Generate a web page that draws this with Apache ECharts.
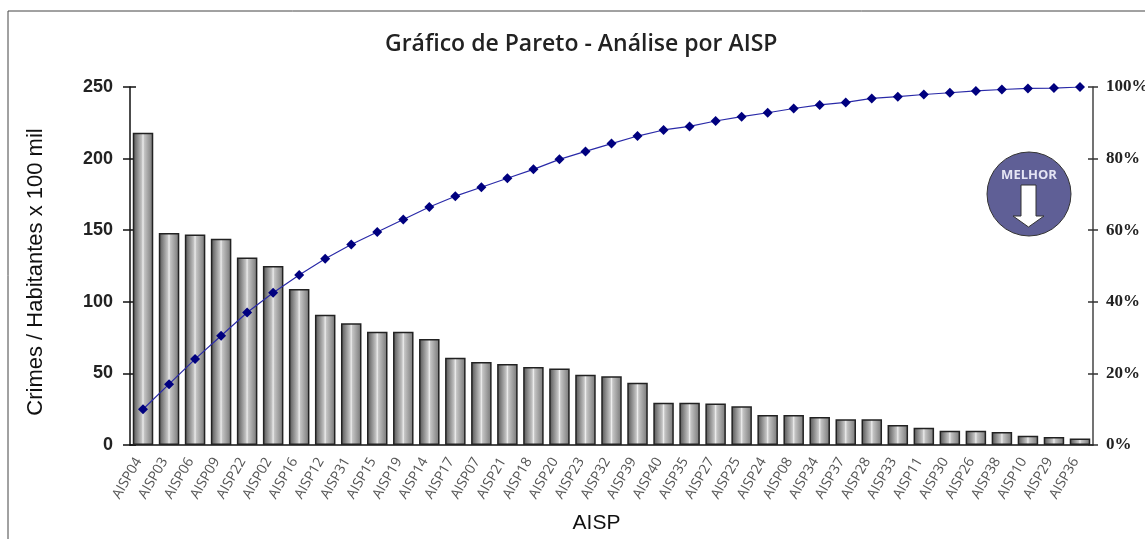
<!DOCTYPE html>
<html>
<head>
<meta charset="utf-8">
<script src="https://cdn.jsdelivr.net/npm/echarts@6/dist/echarts.min.js"></script>
<style>
html, body { margin: 0; padding: 0; background: #fff; overflow: hidden; }
#chart { width: 1145px; height: 539px; }
</style>
</head>
<body>
<div id="chart"></div>
<script>
var categories = ['AISP04','AISP03','AISP06','AISP09','AISP22','AISP02','AISP16','AISP12','AISP31','AISP15','AISP19','AISP14','AISP17','AISP07','AISP21','AISP18','AISP20','AISP23','AISP32','AISP39','AISP40','AISP35','AISP27','AISP25','AISP24','AISP08','AISP34','AISP37','AISP28','AISP33','AISP11','AISP30','AISP26','AISP38','AISP10','AISP29','AISP36'];
var crimes = [218,148,147,144,131,125,109,91,85,79,79,74,61,58,56.5,54.5,53.5,49,48,43.5,29.5,29.5,29,27,21,21,19.5,18,18,14,12,10,10,9,6.5,5.5,4.5];
var acumulado = [10,17,24,30.5,37,42.5,47.5,52,56,59.5,63,66.5,69.5,72,74.5,77,79.8,82,84.2,86.3,88,89,90.5,91.7,92.8,94,95,95.7,96.8,97.3,97.9,98.4,98.9,99.3,99.6,99.7,100];

var myChart = echarts.init(document.getElementById('chart'));

// gradiente das barras, escuro nas pontas e claro no meio
var barColor = {
    type: 'linear', x: 0, y: 0, x2: 1, y2: 0,
    colorStops: [
        { offset: 0, color: '#505050' },
        { offset: 0.44, color: '#c4c4c4' },
        { offset: 0.5, color: '#eeeeee' },
        { offset: 0.56, color: '#c4c4c4' },
        { offset: 1, color: '#747474' }
    ]
};

var option = {
    animation: false,
    title: {
        text: 'Gráfico de Pareto - Análise por AISP',
        left: 380,
        top: 28,
        textStyle: { fontFamily: 'Open Sans', fontSize: 23, fontWeight: 600, color: '#222' }
    },
    // sem isso o echarts 6 encolhe o grid por causa do 100%
    grid: { left: 130, right: 52, top: 87, bottom: 94, outerBoundsMode: 'none' },
    xAxis: [
        {
            type: 'category',
            data: categories,
            name: 'AISP',
            nameLocation: 'middle',
            nameGap: 68,
            nameTextStyle: { fontFamily: 'Liberation Sans', fontSize: 21, color: '#111', padding: [0, 30, 0, 0] },
            axisLine: { lineStyle: { color: '#111', width: 1.5 } },
            axisTick: { length: 7, lineStyle: { color: '#111', width: 1.5 } },
            axisLabel: { interval: 0, rotate: 60, fontFamily: 'Open Sans', fontSize: 14, color: '#555', margin: 6, padding: [0, 9, 0, 0] }
        },
        {
            // risquinhos para dentro
            type: 'category',
            data: categories,
            position: 'bottom',
            axisLine: { show: false },
            axisTick: { inside: true, length: 4, lineStyle: { color: '#111', width: 1.5 } },
            axisLabel: { show: false }
        }
    ],
    yAxis: [
        {
            type: 'value',
            min: 0,
            max: 250,
            interval: 50,
            name: 'Crimes / Habitantes x 100 mil',
            nameLocation: 'middle',
            nameGap: 83,
            nameTextStyle: { fontFamily: 'Liberation Sans', fontSize: 22, color: '#111', padding: [0, 12, 0, 0] },
            splitLine: { show: false },
            axisLine: { show: true, lineStyle: { color: '#111', width: 1.5 } },
            axisTick: { show: true, length: 7, lineStyle: { color: '#111', width: 1.5 } },
            axisLabel: { fontFamily: 'Liberation Sans', fontSize: 18, fontWeight: 'bold', color: '#222', margin: 17 }
        },
        {
            type: 'value',
            min: 0,
            max: 100,
            interval: 20,
            position: 'right',
            splitLine: { show: false },
            axisLine: { show: true, lineStyle: { color: '#444', width: 1.5 } },
            axisTick: { show: true, length: 5, lineStyle: { color: '#333', width: 1.5 } },
            axisLabel: { formatter: '{value}%', fontFamily: 'Liberation Serif', fontSize: 17, fontWeight: 'bold', color: '#222', margin: 13 }
        },
        {
            type: 'value',
            min: 0,
            max: 250,
            interval: 50,
            position: 'left',
            splitLine: { show: false },
            axisLine: { show: false },
            axisTick: { show: true, inside: true, length: 6, lineStyle: { color: '#111', width: 1.5 } },
            axisLabel: { show: false }
        },
        {
            type: 'value',
            min: 0,
            max: 100,
            interval: 20,
            position: 'right',
            splitLine: { show: false },
            axisLine: { show: false },
            axisTick: { show: true, inside: true, length: 5, lineStyle: { color: '#333', width: 1.5 } },
            axisLabel: { show: false }
        }
    ],
    series: [
        {
            name: 'Crimes',
            type: 'bar',
            data: crimes,
            barWidth: 20.5,
            itemStyle: { color: barColor, borderColor: '#222', borderWidth: 1.5 }
        },
        {
            name: 'Acumulado',
            type: 'line',
            yAxisIndex: 1,
            data: acumulado,
            symbol: 'diamond',
            symbolSize: 10,
            lineStyle: { color: '#2a2aa8', width: 1.2 },
            itemStyle: { color: '#00007f' }
        }
    ],
    graphic: [
        { type: 'rect', shape: { x: 8, y: 11, width: 1300, height: 700 }, style: { fill: 'none', stroke: '#444', lineWidth: 1 }, silent: true },
        { type: 'circle', shape: { cx: 1029, cy: 194, r: 42 }, style: { fill: '#5f5f96', stroke: '#333', lineWidth: 1 }, z: 10 },
        { type: 'text', x: 1029, y: 175, style: { text: 'MELHOR', fill: '#e4e4f4', align: 'center', verticalAlign: 'middle', fontFamily: 'Open Sans', fontWeight: 'bold', fontSize: 13 }, z: 11 },
        { type: 'polygon', shape: { points: [[1021, 185], [1036, 185], [1036, 216], [1044, 216], [1028.5, 227], [1013, 216], [1021, 216]] }, style: { fill: '#fff', stroke: '#333', lineWidth: 1 }, z: 11 }
    ]
};

myChart.setOption(option);
</script>
</body>
</html>
